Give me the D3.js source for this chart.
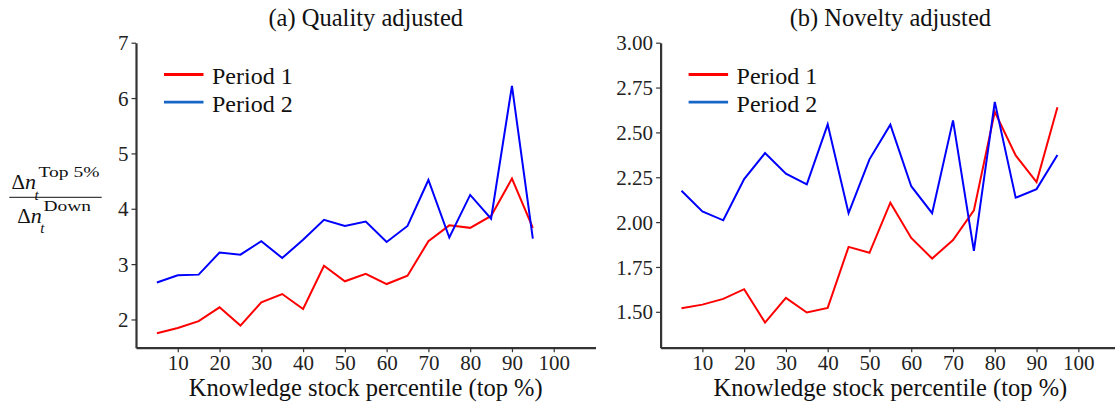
<!DOCTYPE html>
<html lang="en">
  <head>
    <meta charset="utf-8">
    <title>Knowledge stock percentile</title>
    <script src="https://d3js.org/d3.v7.min.js"></script>
    <style>
    body { margin: 0; background: white; }
    svg text { font-family: "Liberation Serif", "Times New Roman", serif; }
    .axis path, .axis line { stroke: #333; }
    .axis text { fill: #222; font-size: 21px; font-family: "Liberation Serif", serif; }
    </style>
  </head>
  <body>
    <script type="text/javascript">

      // x positions (top %)
      var percentiles = [5, 10, 15, 20, 25, 30, 35, 40, 45, 50, 55, 60, 65, 70, 75, 80, 85, 90, 95];
      var xTicks = [10, 20, 30, 40, 50, 60, 70, 80, 90, 100];

      // (a) quality adjusted
      var qualityP1 = [1.75, 1.845, 1.97, 2.22, 1.89, 2.31, 2.46, 2.19, 2.97, 2.69, 2.825,
                       2.64, 2.79, 3.415, 3.70, 3.655, 3.87, 4.545, 3.655];
      var qualityP2 = [2.668, 2.80, 2.81, 3.21, 3.17, 3.415, 3.11, 3.44, 3.80, 3.69, 3.77,
                       3.40, 3.69, 4.52, 3.48, 4.25, 3.82, 6.22, 3.46];
      var qualityTicks = [2, 3, 4, 5, 6, 7];

      // (b) novelty adjusted
      var noveltyP1 = [1.52, 1.54, 1.572, 1.626, 1.44, 1.578, 1.496, 1.522, 1.862, 1.829, 2.108,
                       1.912, 1.797, 1.90, 2.065, 2.615, 2.372, 2.223, 2.64];
      var noveltyP2 = [2.175, 2.06, 2.01, 2.24, 2.385, 2.27, 2.21, 2.545, 2.05, 2.35, 2.543,
                       2.20, 2.05, 2.567, 1.84, 2.67, 2.136, 2.184, 2.374];
      var noveltyTicks = [1.50, 1.75, 2.00, 2.25, 2.50, 2.75, 3.00];

      var seriesNames = ["Period 1", "Period 2"];
      var lineColors = ["#ff0000", "#0000ff"];
      var legendColors = ["#ff0000", "#1666c8"];

      var w = 1115, h = 405;
      var plotTop = 42.7, plotBottom = 347.7;

      var svg = d3.select("body")
          .append("svg")
          .attr("width", w)
          .attr("height", h);

      svg.append("rect")
          .attr("width", w)
          .attr("height", h)
          .attr("fill", "white");

      function panel(opts) {
        var xScale = d3.scaleLinear()
            .domain([0, 110])
            .range([opts.left, opts.left + 459.5]);
        var yScale = d3.scaleLinear()
            .domain(opts.yDomain)
            .range([plotBottom, plotTop]);

        var g = svg.append("g");

        // lines
        var line = d3.line()
            .x(function(d, i) { return xScale(percentiles[i]); })
            .y(function(d) { return yScale(d); });

        [opts.p1, opts.p2].forEach(function(vals, k) {
          g.append("path")
              .datum(vals)
              .attr("fill", "none")
              .attr("stroke", lineColors[k])
              .attr("stroke-width", 2)
              .attr("stroke-linejoin", "miter")
              .attr("d", line);
        });

        // axes
        var xAxis = d3.axisBottom(xScale)
            .tickValues(xTicks)
            .tickSize(4.5)
            .tickPadding(3)
            .tickSizeOuter(0);
        var yAxis = d3.axisLeft(yScale)
            .tickValues(opts.yTicks)
            .tickSize(4.5)
            .tickPadding(3)
            .tickSizeOuter(0)
            .tickFormat(opts.fmt);

        var gx = g.append("g")
            .attr("class", "axis")
            .attr("transform", `translate(0, ${plotBottom})`)
            .call(xAxis);
        gx.select(".domain").attr("stroke-width", 2.2);
        gx.selectAll(".tick line").attr("stroke-width", 1.2);
        gx.selectAll(".tick text").attr("dy", "0.71em");

        var gy = g.append("g")
            .attr("class", "axis")
            .attr("transform", `translate(${opts.left}, 0)`)
            .call(yAxis);
        gy.select(".domain").attr("stroke-width", 2.2);
        gy.selectAll(".tick line").attr("stroke-width", 1.2);
        gy.selectAll(".tick text").attr("dy", "0.34em");

        var cx = (xScale.range()[0] + xScale.range()[1]) / 2;

        // title
        g.append("text")
            .attr("x", cx)
            .attr("y", 25.5)
            .attr("text-anchor", "middle")
            .attr("font-size", "24.5px")
            .attr("fill", "#111")
            .text(opts.title);

        // x label
        g.append("text")
            .attr("x", cx)
            .attr("y", 396)
            .attr("text-anchor", "middle")
            .attr("font-size", "24.5px")
            .attr("fill", "#111")
            .text("Knowledge stock percentile (top %)");

        // legend
        var lg = g.append("g")
            .attr("transform", `translate(${opts.left + 28}, 0)`);
        seriesNames.forEach(function(name, k) {
          var ly = 74.5 + k * 27.7;
          lg.append("line")
              .attr("x1", 0).attr("x2", 39.5)
              .attr("y1", ly).attr("y2", ly)
              .attr("stroke", legendColors[k])
              .attr("stroke-width", 2.8);
          lg.append("text")
              .attr("x", 48)
              .attr("y", ly + 9.5)
              .attr("font-size", "24px")
              .attr("fill", "#111")
              .text(name);
        });
      }

      panel({left: 136, yDomain: [1.49, 7], yTicks: qualityTicks, fmt: d3.format("d"),
             p1: qualityP1, p2: qualityP2, title: "(a) Quality adjusted"});
      panel({left: 660.6, yDomain: [1.30, 3.0], yTicks: noveltyTicks, fmt: d3.format(".2f"),
             p1: noveltyP1, p2: noveltyP2, title: "(b) Novelty adjusted"});

// y label: fraction
      var yl = svg.append("g").attr("fill", "#111");

      yl.append("text").attr("x", 11.5).attr("y", 189.3).attr("font-size", "21px").text("Δ");
      yl.append("text").attr("x", 25).attr("y", 189.3).attr("font-size", "22px")
          .attr("font-style", "italic").text("n");
      yl.append("text").attr("x", 34.5).attr("y", 199.5).attr("font-size", "15px")
          .attr("font-style", "italic").text("t");
      yl.append("text").attr("x", 38.5).attr("y", 176.7).attr("font-size", "15px")
          .attr("textLength", 61).attr("lengthAdjust", "spacingAndGlyphs").text("Top 5%");

      yl.append("line")
          .attr("x1", 9.3).attr("x2", 101.7)
          .attr("y1", 197.3).attr("y2", 197.3)
          .attr("stroke", "#111").attr("stroke-width", 1);

      yl.append("text").attr("x", 17.3).attr("y", 223.3).attr("font-size", "21px").text("Δ");
      yl.append("text").attr("x", 30.7).attr("y", 223.3).attr("font-size", "22px")
          .attr("font-style", "italic").text("n");
      yl.append("text").attr("x", 40.2).attr("y", 232.5).attr("font-size", "15px")
          .attr("font-style", "italic").text("t");
      yl.append("text").attr("x", 43.5).attr("y", 211).attr("font-size", "15px")
          .attr("textLength", 47.5).attr("lengthAdjust", "spacingAndGlyphs").text("Down");

    </script>
  </body>
</html>
